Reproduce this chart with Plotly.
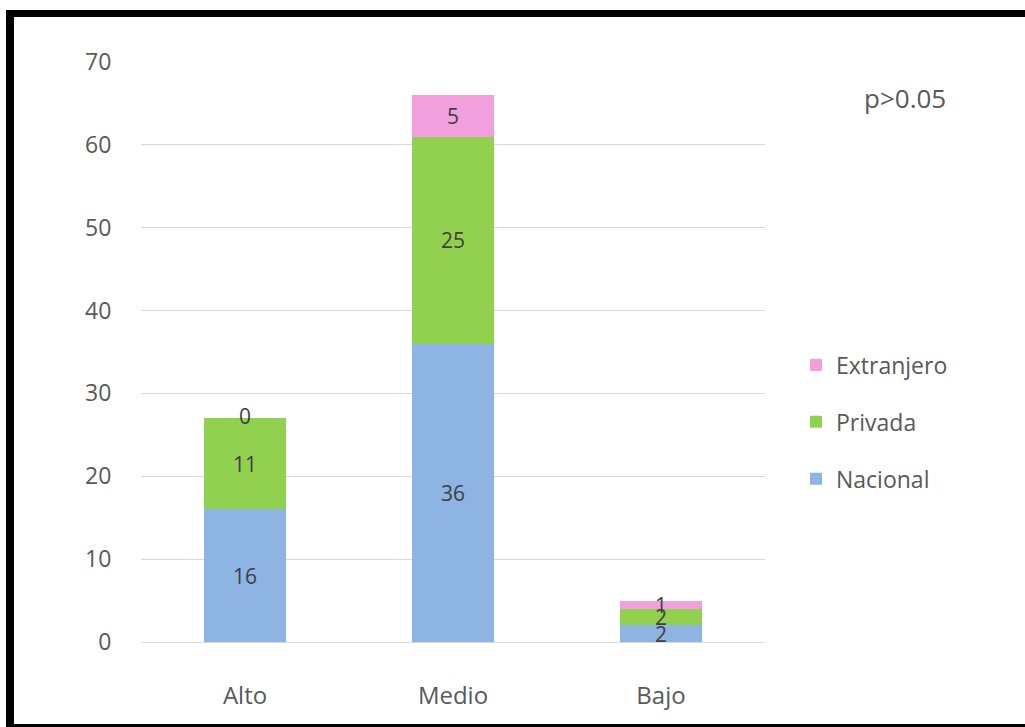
import plotly.graph_objects as go

categories = ["Alto", "Medio", "Bajo"]
nacional = [16, 36, 2]
privada = [11, 25, 2]
extranjero = [0, 5, 1]
y_ticks = [0, 10, 20, 30, 40, 50, 60, 70]

W, H = 1025, 727
L, R, T, B = 141, 765, 62, 642

def px(x):
    return (x - L) / (R - L)

def py(y):
    return (B - y) / (B - T)

font = "Open Sans, Noto Sans, sans-serif"
lab_font = dict(family=font, size=21, color="#404040")

fig = go.Figure()
series = [("Nacional", nacional, "#8DB4E2", 3),
          ("Privada", privada, "#92D050", 2),
          ("Extranjero", extranjero, "#F29FDE", 1)]
for name, vals, col, rank in series:
    fig.add_trace(go.Bar(
        x=categories, y=vals, name=name, marker_color=col,
        marker_line_width=0, text=[str(v) for v in vals],
        textposition="inside", insidetextanchor="middle", textangle=0,
        textfont=lab_font, legendgroup=name, legendrank=rank,
    ))

# labels for zero-height segments (drawn at top of the stack)
zx, zy, zt = [], [], []
for c, n, p, e in zip(categories, nacional, privada, extranjero):
    if e == 0:
        zx.append(c)
        zy.append(n + p + e)
        zt.append(str(e))
fig.add_trace(go.Scatter(x=zx, y=zy, text=zt, mode="text", textposition="middle center",
                         textfont=lab_font, showlegend=False, hoverinfo="skip"))

shapes = [
    dict(type="rect", xref="paper", yref="paper", x0=px(6), x1=px(14), y0=py(10), y1=py(730),
         fillcolor="black", line_width=0, layer="above"),
    dict(type="rect", xref="paper", yref="paper", x0=px(6), x1=px(1030), y0=py(10), y1=py(17),
         fillcolor="black", line_width=0, layer="above"),
    dict(type="rect", xref="paper", yref="paper", x0=px(6), x1=px(1030), y0=py(724), y1=py(730),
         fillcolor="black", line_width=0, layer="above"),
]

fig.update_layout(
    width=W, height=H,
    margin=dict(l=L, r=W - R, t=T, b=H - B, autoexpand=False),
    paper_bgcolor="white", plot_bgcolor="white",
    barmode="stack", bargap=0.606,
    uniformtext=dict(minsize=21, mode="show"),
    font=dict(family=font, size=16, color="#595959"),
    xaxis=dict(showgrid=False, showline=False, ticks="outside", ticklen=32,
               tickcolor="rgba(0,0,0,0)", tickfont=dict(size=24, color="#595959")),
    yaxis=dict(range=[0, 70], tickvals=y_ticks, showgrid=True, gridcolor="#D9D9D9",
               gridwidth=1, zeroline=True, zerolinecolor="#D9D9D9", zerolinewidth=1,
               ticks="outside", ticklen=24, tickcolor="rgba(0,0,0,0)",
               tickfont=dict(size=23, color="#595959")),
    legend=dict(x=px(796), y=py(422), xanchor="left", yanchor="middle",
                traceorder="grouped", tracegroupgap=24,
                font=dict(size=23, color="#595959"), bgcolor="rgba(0,0,0,0)"),
    shapes=shapes,
    annotations=[dict(text="p>0.05", xref="paper", yref="paper", x=px(905), y=py(98),
                      xanchor="center", yanchor="middle",
                      showarrow=False, font=dict(size=26, color="#595959"))],
)

fig.write_html("out.html")
